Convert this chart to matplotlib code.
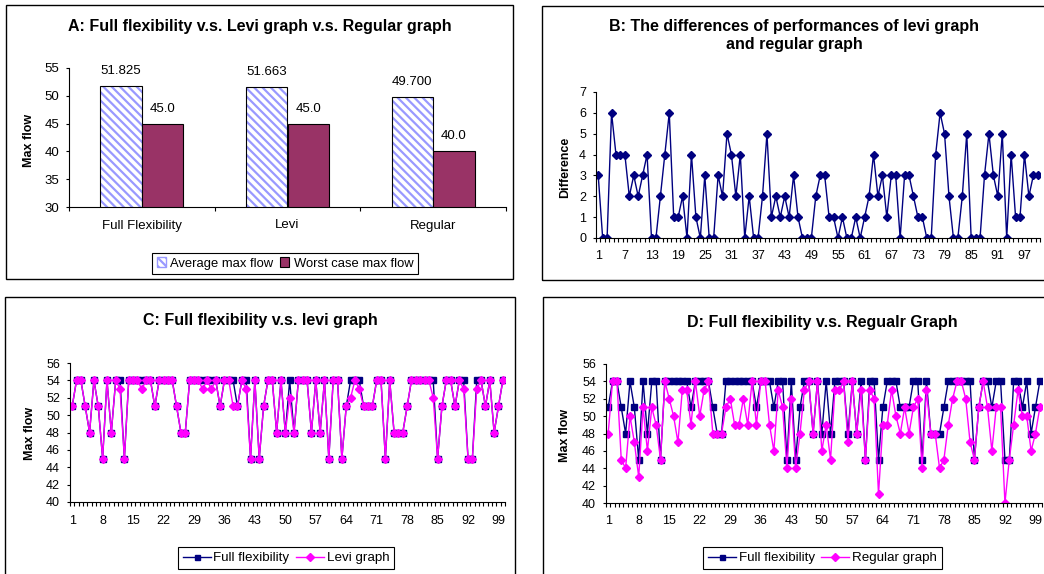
import numpy as np
import matplotlib
matplotlib.use('Agg')
import matplotlib.pyplot as plt
from matplotlib.patches import Rectangle, Patch
from matplotlib.lines import Line2D

plt.rcParams['font.family'] = ['Liberation Sans', 'DejaVu Sans']
plt.rcParams['hatch.linewidth'] = 1.6

W, H = 1044, 574

# panel A
categories = ['Full Flexibility', 'Levi', 'Regular']
avg_flow = [51.825, 51.663, 49.700]
worst_flow = [45.0, 45.0, 40.0]
avg_text = ['51.825', '51.663', '49.700']
worst_text = ['45.0', '45.0', '40.0']

# panel B: levi - regular for each run
difference = [3, 0, 0, 6, 4, 4, 4, 2, 3, 2,
              3, 4, 0, 0, 2, 4, 6, 1, 1, 2,
              0, 4, 1, 0, 3, 0, 0, 3, 2, 5,
              4, 2, 4, 0, 2, 0, 0, 2, 5, 1,
              2, 1, 2, 1, 3, 1, 0, 0, 0, 2,
              3, 3, 1, 1, 0, 1, 0, 0, 1, 0,
              1, 2, 4, 2, 3, 1, 3, 3, 0, 3,
              3, 2, 1, 1, 0, 0, 4, 6, 5, 2,
              0, 0, 2, 5, 0, 0, 0, 3, 5, 3,
              2, 5, 0, 4, 1, 1, 4, 2, 3, 3]

# panels C and D
full_flex = [51, 54, 54, 51, 48, 54, 51, 45, 54, 48,
             54, 54, 45, 54, 54, 54, 54, 54, 54, 51,
             54, 54, 54, 54, 51, 48, 48, 54, 54, 54,
             54, 54, 54, 54, 51, 54, 54, 54, 51, 54,
             54, 45, 54, 45, 51, 54, 54, 48, 54, 48,
             54, 48, 54, 54, 54, 48, 54, 48, 54, 45,
             54, 54, 45, 51, 54, 54, 54, 51, 51, 51,
             54, 54, 45, 54, 48, 48, 48, 51, 54, 54,
             54, 54, 54, 54, 45, 51, 54, 54, 51, 54,
             54, 45, 45, 54, 54, 51, 54, 48, 51, 54]

levi = [51, 54, 54, 51, 48, 54, 51, 45, 54, 48,
        54, 53, 45, 54, 54, 54, 53, 54, 54, 51,
        54, 54, 54, 54, 51, 48, 48, 54, 54, 54,
        53, 54, 53, 54, 51, 54, 54, 51, 51, 54,
        53, 45, 54, 45, 51, 54, 54, 48, 54, 48,
        52, 48, 54, 54, 54, 48, 54, 48, 54, 45,
        54, 54, 45, 51, 52, 54, 53, 51, 51, 51,
        54, 54, 45, 54, 48, 48, 48, 51, 54, 54,
        54, 54, 54, 52, 45, 51, 54, 54, 51, 54,
        53, 45, 45, 53, 54, 51, 54, 48, 51, 54]

regular = [48, 54, 54, 45, 44, 50, 47, 43, 51, 46,
           51, 49, 45, 54, 52, 50, 47, 53, 53, 49,
           54, 50, 53, 54, 48, 48, 48, 51, 52, 49,
           49, 52, 49, 54, 49, 54, 54, 49, 46, 53,
           51, 44, 52, 44, 48, 53, 54, 48, 54, 46,
           49, 45, 53, 53, 54, 47, 54, 48, 53, 45,
           53, 52, 41, 49, 49, 53, 50, 48, 51, 48,
           51, 52, 44, 53, 48, 48, 44, 45, 49, 52,
           54, 54, 52, 47, 45, 51, 54, 51, 46, 51,
           51, 40, 45, 49, 53, 50, 50, 46, 48, 51]

runs = np.arange(1, len(difference) + 1)

NAVY = '#000080'
MAGENTA = '#FF00FF'
px = 72 / 100  # points per pixel
TITLE_FS = 11.5
TICK_FS = 9
LEG_FS = 9.6


def rect(l, t, r, b):
    return [l / W, 1 - b / H, (r - l) / W, (b - t) / H]


def fy(y):
    return 1 - y / H


def frame(l, t, r, b):
    fig.add_artist(Rectangle((l / W, 1 - b / H), (r - l) / W, (b - t) / H,
                             transform=fig.transFigure, fill=False,
                             edgecolor='black', lw=1.0, clip_on=False))


def style_axes(ax):
    for s in ['top', 'right']:
        ax.spines[s].set_visible(False)
    for s in ['left', 'bottom']:
        ax.spines[s].set_linewidth(0.8)


def run_axis(ax, step, fs):
    ax.set_xlim(0.5, len(runs) + 0.5)
    ax.set_xticks(np.arange(1, len(runs) + 1, step))
    ax.set_xticks(np.arange(0.5, len(runs) + 1, 1), minor=True)
    ax.tick_params(axis='x', which='major', length=0, pad=9, labelsize=fs)
    ax.tick_params(axis='x', which='minor', length=4 * px, width=0.8, direction='out')
    ax.tick_params(axis='y', which='major', length=3 * px, width=0.8,
                   direction='out', pad=5, labelsize=fs)


def line_legend(labels, cx):
    leg = fig.legend([Line2D([], [], color=NAVY, lw=1, marker='s', ms=3.6),
                      Line2D([], [], color=MAGENTA, lw=1, marker='D', ms=3.8)],
                     labels, loc='center', bbox_to_anchor=(cx / W, fy(558)),
                     ncol=2, fontsize=LEG_FS, fancybox=False, edgecolor='black',
                     framealpha=1, handlelength=2.1, handletextpad=0.2,
                     columnspacing=0.5, borderpad=0.35)
    leg.get_frame().set_linewidth(0.8)
    return leg


fig = plt.figure(figsize=(W / 100, H / 100), dpi=100)

# ---------------- A ----------------
axA = fig.add_axes(rect(69, 68, 506, 207))
style_axes(axA)
x = np.arange(len(categories))
bw = 0.2857
axA.bar(x - bw / 2, avg_flow, bw, color='white', edgecolor='#9999FF',
        hatch='\\\\\\\\', lw=0)
axA.bar(x - bw / 2, avg_flow, bw, fill=False, edgecolor='black', lw=0.8)
axA.bar(x + bw / 2, worst_flow, bw, color='#993366', edgecolor='black', lw=0.8)
for i in range(len(categories)):
    axA.annotate(avg_text[i], (x[i] - bw / 2, avg_flow[i]), xytext=(0, 15 * px),
                 textcoords='offset points', ha='center', va='center', fontsize=9.5)
    axA.annotate(worst_text[i], (x[i] + bw / 2, worst_flow[i]), xytext=(0, 15 * px),
                 textcoords='offset points', ha='center', va='center', fontsize=9.5)
axA.set_xlim(-0.5, 2.5)
axA.set_ylim(30, 55)
axA.set_yticks(np.arange(30, 56, 5))
axA.set_xticks(x)
axA.set_xticklabels(categories)
axA.set_xticks([-0.5, 0.5, 1.5, 2.5], minor=True)
axA.tick_params(axis='x', which='major', length=0, pad=9, labelsize=9.5)
axA.tick_params(axis='x', which='minor', length=4 * px, width=0.8)
axA.tick_params(axis='y', length=3 * px, width=0.8, pad=5, labelsize=9.5)

fig.text(260 / W, fy(27), 'A: Full flexibility v.s. Levi graph v.s. Regular graph',
         ha='center', va='center', fontsize=TITLE_FS, fontweight='bold')
fig.text(29 / W, fy(140), 'Max flow', rotation=90, ha='center', va='center',
         fontsize=9, fontweight='bold')
legA = fig.legend([Patch(facecolor='white', edgecolor='#9999FF', hatch='\\\\\\\\'),
                   Patch(facecolor='#993366', edgecolor='black', lw=0.8)],
                  ['Average max flow', 'Worst case max flow'],
                  loc='center', bbox_to_anchor=(285 / W, fy(263.5)), ncol=2,
                  fontsize=9.4, fancybox=False, edgecolor='black', framealpha=1,
                  handlelength=0.7, handleheight=0.7, handletextpad=0.35,
                  columnspacing=0.5, borderpad=0.35)
legA.get_frame().set_linewidth(0.8)

# ---------------- B ----------------
axB = fig.add_axes(rect(596, 92, 1040, 238))
style_axes(axB)
axB.plot(runs, difference, color=NAVY, lw=1, marker='D', ms=4.5, mfc=NAVY, mec=NAVY)
axB.set_ylim(0, 7)
axB.set_yticks(range(0, 8))
run_axis(axB, 6, TICK_FS)
fig.text(794 / W, fy(27), 'B: The differences of performances of levi graph',
         ha='center', va='center', fontsize=TITLE_FS, fontweight='bold')
fig.text(794 / W, fy(44), 'and regular graph',
         ha='center', va='center', fontsize=TITLE_FS, fontweight='bold')
fig.text(565 / W, fy(167), 'Difference', rotation=90, ha='center', va='center',
         fontsize=9, fontweight='bold')

# ---------------- C ----------------
axC = fig.add_axes(rect(70, 363, 505, 502))
style_axes(axC)
axC.plot(runs, full_flex, color=NAVY, lw=1, marker='s', ms=4.3, mfc=NAVY, mec=NAVY)
axC.plot(runs, levi, color=MAGENTA, lw=1, marker='D', ms=4.5, mfc=MAGENTA, mec=MAGENTA)
axC.set_ylim(40, 56)
axC.set_yticks(range(40, 57, 2))
run_axis(axC, 7, TICK_FS)
fig.text(260 / W, fy(321), 'C: Full flexibility v.s. levi graph',
         ha='center', va='center', fontsize=TITLE_FS, fontweight='bold')
fig.text(30 / W, fy(433), 'Max flow', rotation=90, ha='center', va='center',
         fontsize=9, fontweight='bold')
line_legend(['Full flexibility', 'Levi graph'], 286)

# ---------------- D ----------------
axD = fig.add_axes(rect(606, 364, 1042, 503))
style_axes(axD)
axD.plot(runs, full_flex, color=NAVY, lw=1, marker='s', ms=4.3, mfc=NAVY, mec=NAVY)
axD.plot(runs, regular, color=MAGENTA, lw=1, marker='D', ms=4.5, mfc=MAGENTA, mec=MAGENTA)
axD.set_ylim(40, 56)
axD.set_yticks(range(40, 57, 2))
run_axis(axD, 7, TICK_FS)
fig.text(822 / W, fy(322), 'D: Full flexibility v.s. Regualr Graph',
         ha='center', va='center', fontsize=TITLE_FS, fontweight='bold')
fig.text(565 / W, fy(435), 'Max flow', rotation=90, ha='center', va='center',
         fontsize=9, fontweight='bold')
line_legend(['Full flexibility', 'Regular graph'], 822.5)

# chart frames
frame(6, 5, 513, 279)
frame(542, 6, 1050, 280)
frame(5, 297, 515, 580)
frame(543, 297, 1050, 580)

fig.savefig('out.png', dpi=100)
